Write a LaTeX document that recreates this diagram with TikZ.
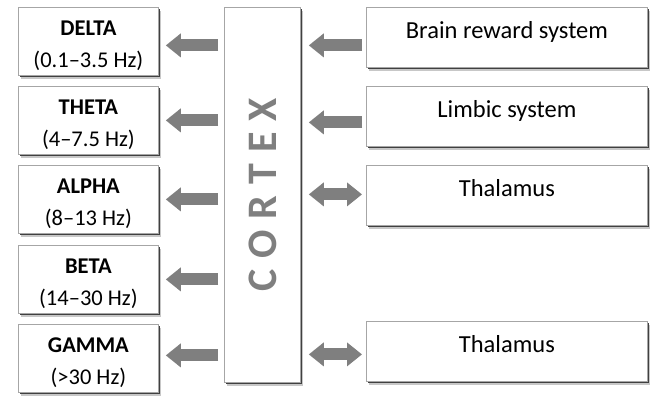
\documentclass[tikz,border=0pt]{standalone}
\usepackage{fontspec}
\setmainfont{Carlito}
\usetikzlibrary{arrows.meta,shadows}
\definecolor{arrowgray}{HTML}{7F7F7F}
\definecolor{edgegray}{HTML}{A6A6A6}
\newcommand{\toppad}{\rule{0pt}{24pt}}
\tikzset{
  boxbase/.style={draw=edgegray, line width=0.8pt, fill=white, inner sep=0pt,
    general shadow={fill=black!22, shadow xshift=2.5pt, shadow yshift=-3.5pt},
    general shadow={fill=black!75, shadow xshift=1.8pt, shadow yshift=-1.5pt}},
  leftbox/.style={boxbase, anchor=north west, minimum width=140pt, minimum height=68pt,
    align=center, font=\fontsize{22.5}{32}\selectfont},
  rightbox/.style={boxbase, anchor=north west, minimum width=281pt,
    text height=31pt, text depth=29pt, font=\fontsize{24.5}{28}\selectfont},
  cortexbox/.style={boxbase, anchor=north west, minimum width=76pt, minimum height=375pt},
  bigarrow/.style={draw=arrowgray, line width=12pt, line cap=butt,
    -{Triangle[width=23pt,length=15pt]}},
  dblarrow/.style={draw=arrowgray, line width=12pt, line cap=butt,
    {Triangle[width=23pt,length=15pt]}-{Triangle[width=23pt,length=15pt]}},
}
\begin{document}
\begin{tikzpicture}[x=1pt,y=-1pt]
\useasboundingbox[fill=white] (0,0) rectangle (661,396);
% left boxes
\node[leftbox] (delta) at (18,7)   {\toppad\textbf{DELTA}\\(0.1–3.5 Hz)};
\node[leftbox] (theta) at (18,86)  {\toppad\textbf{THETA}\\(4–7.5 Hz)};
\node[leftbox] (alpha) at (18,165) {\toppad\textbf{ALPHA}\\(8–13 Hz)};
\node[leftbox] (beta)  at (18,245) {\toppad\textbf{BETA}\\(14–30 Hz)};
\node[leftbox] (gamma) at (18,324) {\toppad\textbf{GAMMA}\\(>30 Hz)};
% cortex
\node[cortexbox] (cortex) at (224,7) {};
\node[rotate=90, text=arrowgray, font=\fontsize{42}{42}\bfseries] (cortextext) at (cortex.center)
  {C\kern11pt O\kern11pt R\kern11pt T\kern11pt E\kern11pt X};
% right boxes
\node[rightbox] (reward)   at (366,7)   {Brain reward system};
\node[rightbox] (limbic)   at (366,86)  {Limbic system};
\node[rightbox] (thal)     at (366,165) {Thalamus};
\node[rightbox] (thaltwo)  at (366,321) {Thalamus};
% left arrows
\draw[bigarrow] ([xshift=-6pt,yshift=-4pt]cortex.west |- delta.east) -- ([xshift=7pt,yshift=-4pt]delta.east);
\draw[bigarrow] ([xshift=-6pt]cortex.west |- theta.east) -- ([xshift=7pt]theta.east);
\draw[bigarrow] ([xshift=-6pt]cortex.west |- alpha.east) -- ([xshift=7pt]alpha.east);
\draw[bigarrow] ([xshift=-6pt]cortex.west |- beta.east) -- ([xshift=7pt]beta.east);
\draw[bigarrow] ([xshift=-6pt,yshift=3pt]cortex.west |- gamma.east) -- ([xshift=7pt,yshift=3pt]gamma.east);
% right arrows
\draw[bigarrow] ([xshift=-4pt,yshift=-8pt]reward.west) -- ([xshift=8pt,yshift=-8pt]cortex.east |- reward.west);
\draw[bigarrow] ([xshift=-4pt,yshift=-6pt]limbic.west) -- ([xshift=8pt,yshift=-6pt]cortex.east |- limbic.west);
\draw[dblarrow] ([xshift=-4pt,yshift=1pt]thal.west) -- ([xshift=8pt,yshift=1pt]cortex.east |- thal.west);
\draw[dblarrow] ([xshift=-4pt,yshift=-3pt]thaltwo.west) -- ([xshift=8pt,yshift=-3pt]cortex.east |- thaltwo.west);
\end{tikzpicture}
\end{document}
